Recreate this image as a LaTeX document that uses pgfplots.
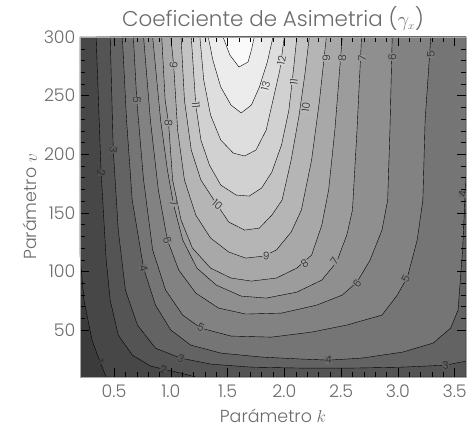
\documentclass[border=0pt]{standalone}
\usepackage{fontspec}
\IfFontExistsTF{Poppins Light}{\setmainfont{Poppins Light}}{\setmainfont{Poppins}}
\usepackage{pgfplots}
\pgfplotsset{compat=1.18}
\definecolor{g0}{gray}{0.23}
\definecolor{g1}{gray}{0.28}
\definecolor{g2}{gray}{0.33}
\definecolor{g3}{gray}{0.39}
\definecolor{g4}{gray}{0.46}
\definecolor{g5}{gray}{0.51}
\definecolor{g6}{gray}{0.56}
\definecolor{g7}{gray}{0.61}
\definecolor{g8}{gray}{0.66}
\definecolor{g9}{gray}{0.71}
\definecolor{g10}{gray}{0.765}
\definecolor{g11}{gray}{0.82}
\definecolor{g12}{gray}{0.87}
\definecolor{g13}{gray}{0.925}
\definecolor{g14}{gray}{0.98}
\definecolor{txt}{gray}{0.42}
\newcommand{\clab}[5]{\node[rotate=#4, fill=#5, inner sep=0.3pt, text=black!85, font=\fontsize{10.5}{11}\selectfont] at (axis cs:#1,#2) {#3};}
\begin{document}
\begin{tikzpicture}
\begin{axis}[name=ax,
  scale only axis, width=386bp, height=340bp,
  xmin=0.2, xmax=3.6, ymin=10, ymax=300,
  axis on top,
  axis line style={gray!70, line width=0.6pt},
  every tick/.style={black, line width=0.4pt},
  xtick={0.5,1.0,1.5,2.0,2.5,3.0,3.5},
  ytick={50,100,150,200,250,300},
  minor x tick num=4, minor y tick num=4,
  tick align=inside, major tick length=9bp, minor tick length=5bp,
  /pgf/number format/assume math mode=true,
  xticklabel style={/pgf/number format/fixed, /pgf/number format/fixed zerofill, /pgf/number format/precision=1, yshift=-4bp},
  tick label style={font=\fontsize{17.5}{20}\selectfont, text=txt},
  yticklabel style={xshift=-1bp},
  label style={font=\fontsize{17.5}{20}\selectfont, text=txt},
  xlabel style={yshift=-5bp},
  xlabel={Parámetro $k$},
  ylabel={Parámetro $v$},
  title={Coeficiente de Asimetria ($\gamma_{\scriptscriptstyle x}$)},
  title style={font=\fontsize{21.5}{23}\selectfont, text=txt, yshift=-3bp},
]
% level 0 background
\addplot[fill=g0, draw=none] coordinates {(0.2,10) (3.6,10) (3.6,300) (0.2,300)} --cycle;
% level 1
\addplot[fill=g1, draw=black, line width=0.4pt] coordinates {(0.2,114) (0.235,75.6) (0.306,41.5) (0.377,22.7) (0.431,10) (3.6,10) (3.6,300) (0.2,300)} --cycle;
% level 2
\addplot[fill=g2, draw=black, line width=0.4pt] coordinates {(0.342,300) (0.386,184) (0.431,109.7) (0.466,75.6) (0.537,45.7) (0.661,28.7) (0.821,19.3) (0.936,16.7) (1.087,13.3) (1.22,10) (3.6,10) (3.6,300)} --cycle;
% level 3
\addplot[fill=g3, draw=black, line width=0.4pt] coordinates {(0.466,300) (0.493,203.6) (0.537,135.3) (0.60,84.1) (0.706,54.3) (0.865,34.6) (1.087,26.1) (1.353,21.0) (1.708,18.4) (2.152,17.6) (2.596,17.6) (3.04,18.4) (3.42,20.1) (3.6,23.6) (3.6,300)} --cycle;
% level 4
\addplot[fill=g4, draw=black, line width=0.4pt] coordinates {(0.573,300) (0.61,229.2) (0.66,160.9) (0.76,102.9) (0.865,71.3) (1.0,50) (1.176,37.2) (1.44,30.4) (1.80,27.0) (2.15,25.3) (2.39,24.4) (2.68,26.1) (3.04,31.2) (3.31,38.9) (3.465,51.7) (3.53,67.1) (3.57,118.3) (3.59,160.9) (3.6,180) (3.6,300)} --cycle;
% level 5
\addplot[fill=g5, draw=black, line width=0.4pt] coordinates {(0.67,300) (0.70,246.2) (0.76,178) (0.84,118.3) (0.954,84.1) (1.105,62.8) (1.265,51.7) (1.53,44.9) (1.886,44.0) (2.24,48.3) (2.55,54.3) (2.86,62.8) (2.995,79.9) (3.084,95.2) (3.17,126.8) (3.22,160.9) (3.24,229.2) (3.29,300)} --cycle;
% level 6
\addplot[fill=g6, draw=black, line width=0.4pt] coordinates {(0.76,300) (0.82,229.2) (0.89,169.5) (0.97,126.8) (1.07,101.2) (1.22,81.6) (1.42,68.8) (1.66,63.7) (1.975,64.5) (2.285,71.3) (2.51,79.9) (2.64,91.0) (2.755,109.7) (2.86,135.3) (2.91,160.9) (2.93,220.6) (2.95,300)} --cycle;
% level 7
\addplot[fill=g7, draw=black, line width=0.4pt] coordinates {(0.84,300) (0.91,229.2) (0.97,186.5) (1.025,156.7) (1.105,126.8) (1.23,102.9) (1.40,88.4) (1.62,79.0) (1.84,77.3) (2.11,82.4) (2.33,92.7) (2.46,108.0) (2.55,131.1) (2.60,152.4) (2.64,220.6) (2.68,300)} --cycle;
% level 8
\addplot[fill=g8, draw=black, line width=0.4pt] coordinates {(0.92,300) (0.95,246.2) (0.98,226.6) (1.016,178) (1.09,143.9) (1.19,120) (1.35,102.9) (1.53,94.4) (1.71,91.8) (1.93,94.4) (2.11,102.9) (2.24,114) (2.33,139.6) (2.39,169.5) (2.445,220.6) (2.51,300)} --cycle;
% level 9
\addplot[fill=g9, draw=black, line width=0.4pt] coordinates {(1.0,300) (1.025,276.1) (1.06,220.6) (1.12,178) (1.22,148.1) (1.35,128.5) (1.51,116.6) (1.66,111.4) (1.815,113.1) (1.93,118.3) (2.06,133.6) (2.15,152.4) (2.24,195.1) (2.31,246.2) (2.37,300)} --cycle;
% level 10
\addplot[fill=g10, draw=black, line width=0.4pt] coordinates {(1.09,300) (1.12,246.2) (1.18,203.6) (1.265,178) (1.38,160.9) (1.51,142.2) (1.65,135.3) (1.78,137) (1.89,148.1) (1.98,160.9) (2.06,195.1) (2.13,233.4) (2.18,267.6) (2.22,300)} --cycle;
% level 11
\addplot[fill=g11, draw=black, line width=0.4pt] coordinates {(1.18,300) (1.22,242) (1.265,212.1) (1.34,190.8) (1.44,173.7) (1.575,165.2) (1.69,164.3) (1.80,171.2) (1.89,184.8) (1.975,207.9) (2.04,237.7) (2.08,271.8) (2.11,300)} --cycle;
% level 12
\addplot[fill=g12, draw=black, line width=0.4pt] coordinates {(1.256,300) (1.29,263.3) (1.35,233.4) (1.44,212.1) (1.55,201) (1.65,198.5) (1.75,203.6) (1.84,220.6) (1.90,246.2) (1.96,271.8) (2.0,300)} --cycle;
% level 13
\addplot[fill=g13, draw=black, line width=0.4pt] coordinates {(1.33,300) (1.37,280.4) (1.44,257.3) (1.53,242) (1.62,235.2) (1.71,242) (1.78,257.3) (1.85,278.7) (1.90,300)} --cycle;
% level 14
\addplot[fill=g14, draw=black, line width=0.4pt] coordinates {(1.46,300) (1.52,284.6) (1.60,274.4) (1.68,278.7) (1.71,288.9) (1.735,300)} --cycle;
% contour labels
\clab{1.025}{276}{9}{-95}{g8!50!g9}
\clab{1.22}{242}{11}{-85}{g10!50!g11}
\clab{0.70}{246}{5}{-95}{g4!50!g5}
\clab{0.98}{227}{8}{-95}{g7!50!g8}
\clab{0.493}{204}{3}{-95}{g2!50!g3}
\clab{0.386}{184}{2}{-95}{g1!50!g2}
\clab{1.025}{158}{7}{-75}{g6!50!g7}
\clab{1.41}{157}{10}{-40}{g9!50!g10}
\clab{0.97}{127}{6}{-70}{g5!50!g6}
\clab{0.76}{103}{4}{-70}{g3!50!g4}
\clab{1.84}{113}{9}{-5}{g8!50!g9}
\clab{2.18}{107}{8}{35}{g7!50!g8}
\clab{2.44}{109}{7}{55}{g6!50!g7}
\clab{2.64}{90}{6}{50}{g5!50!g6}
\clab{3.07}{94}{5}{60}{g4!50!g5}
\clab{1.265}{52}{5}{-25}{g4!50!g5}
\clab{1.09}{26}{3}{-15}{g2!50!g3}
\clab{2.39}{24.4}{4}{0}{g3!50!g4}
\clab{3.42}{20.1}{3}{5}{g2!50!g3}
\clab{0.936}{16.7}{2}{-15}{g1!50!g2}
\clab{0.377}{22.7}{1}{-60}{g0!50!g1}
\clab{3.57}{166}{4}{85}{g3!50!g4}
\clab{1.835}{258}{13}{75}{g12!50!g13}
\clab{1.975}{280}{12}{80}{g11!50!g12}
\clab{2.085}{262}{11}{82}{g10!50!g11}
\clab{2.19}{240}{10}{82}{g9!50!g10}
\clab{2.37}{282}{9}{88}{g8!50!g9}
\clab{2.51}{282}{8}{88}{g7!50!g8}
\clab{2.685}{282}{7}{85}{g6!50!g7}
\clab{2.95}{283}{6}{90}{g5!50!g6}
\clab{3.29}{285}{5}{90}{g4!50!g5}
\end{axis}
\pgfresetboundingbox
\path ([xshift=-80bp,yshift=-53bp]ax.south west) rectangle ([xshift=3bp,yshift=37bp]ax.north east);
\end{tikzpicture}
\end{document}
